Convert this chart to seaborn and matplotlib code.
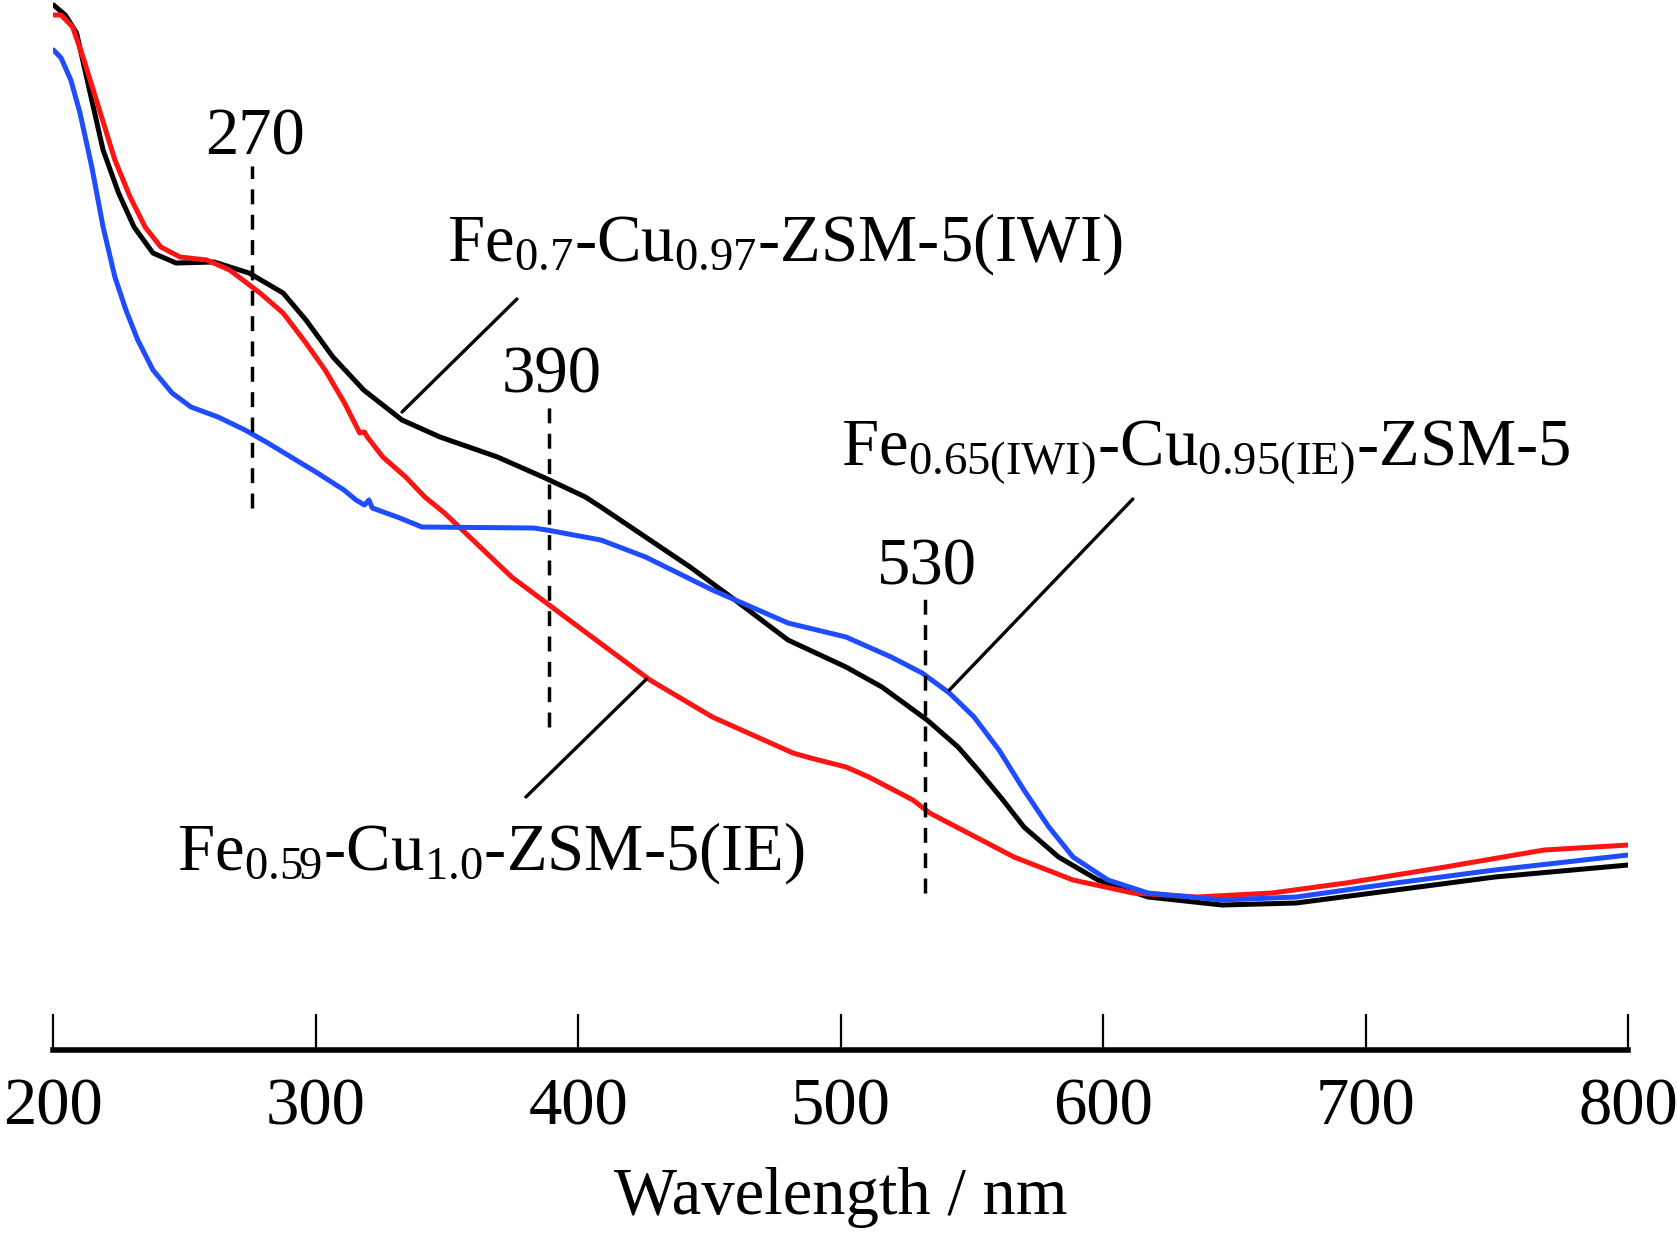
import numpy as np
import pandas as pd
import matplotlib
matplotlib.use("Agg")
import matplotlib.pyplot as plt
import seaborn as sns

# UV-vis spectra (absorbance in arbitrary units)
wl_iwi = [200, 204.5, 208.8, 213.1, 218.9, 224.8, 230.7, 237.9, 246.7, 261.2, 274.5, 287.5, 296.2,
          306.5, 318.2, 332.8, 347.3, 369.2, 386.5, 402.7, 408.6, 425.6, 442.6, 459.7, 479.9,
          502.0, 515.7, 532.9, 544.7, 553.0, 561.8, 569.8, 583.0, 598.0, 617.1, 645.3, 673.5, 711.4,
          749.2, 800]
abs_iwi = [10.45, 10.35, 10.17, 9.67, 9.00, 8.57, 8.23, 7.97, 7.87, 7.88, 7.77, 7.57, 7.30,
           6.93, 6.60, 6.30, 6.13, 5.93, 5.73, 5.53, 5.43, 5.13, 4.83, 4.50, 4.10,
           3.83, 3.63, 3.30, 3.03, 2.78, 2.50, 2.23, 1.93, 1.70, 1.53, 1.45, 1.47, 1.60,
           1.73, 1.85]

wl_ie = [200, 202.9, 207.3, 211.6, 217.5, 223.4, 229.2, 234.9, 240.9, 248.2, 258.4, 267.1,
         278.7, 287.5, 296.2, 303.5, 310.9, 316.7, 318.5, 319.6, 325.5, 334.2, 341.5, 349.0,
         374.6, 389.9, 405.2, 427.3, 451.1, 481.8, 488.5, 502.0, 510.7, 527.5, 533.9, 566.0,
         588.5, 611.4, 635.7, 664.2, 692.5, 730.3, 768.0, 800]
abs_ie = [10.35, 10.35, 10.23, 9.90, 9.40, 8.90, 8.53, 8.23, 8.03, 7.93, 7.90, 7.80,
          7.57, 7.37, 7.07, 6.80, 6.47, 6.17, 6.18, 6.13, 5.93, 5.73, 5.53, 5.37,
          4.73, 4.43, 4.13, 3.70, 3.33, 2.97, 2.92, 2.83, 2.73, 2.50, 2.37, 1.93,
          1.70, 1.57, 1.53, 1.57, 1.67, 1.83, 2.00, 2.05]

wl_mix = [200, 202.9, 206.6, 210.1, 214.6, 218.9, 223.4, 227.6, 232.1, 237.9, 245.2, 252.4,
          262.7, 273.0, 281.7, 290.5, 300.6, 310.7, 315.3, 318.5, 320.2, 321.5, 332.0, 340.4,
          383.1, 388.0, 408.6, 425.6, 451.1, 479.9, 502.0, 519.2, 531.0, 541.4, 550.8, 560.3,
          569.8, 579.3, 588.5, 601.8, 617.1, 645.3, 673.5, 711.4, 749.2, 800]
abs_mix = [10.00, 9.92, 9.70, 9.37, 8.83, 8.23, 7.73, 7.40, 7.10, 6.80, 6.57, 6.43,
           6.33, 6.20, 6.07, 5.93, 5.77, 5.60, 5.50, 5.45, 5.50, 5.42, 5.32, 5.23,
           5.22, 5.20, 5.10, 4.93, 4.60, 4.27, 4.13, 3.93, 3.77, 3.57, 3.33, 3.00,
           2.60, 2.23, 1.93, 1.70, 1.57, 1.50, 1.53, 1.67, 1.80, 1.95]

series = ["IWI", "IE", "MIX"]
colors = {"IWI": "black", "IE": "#ff1414", "MIX": "#1f4cff"}

# peak markers
peak_pos = [275.8, 388.7, 532.0]
peak_text = ["270", "390", "530"]
peak_ymin = [5.42, 3.23, 1.57]
peak_ymax = [8.84, 6.46, 4.54]

# sample labels with leader lines
labels = [r"Fe$_{\mathrm{0.7}}$-Cu$_{\mathrm{0.97}}$-ZSM-5(IWI)",
          r"Fe$_{\mathrm{0.65(IWI)}}$-Cu$_{\mathrm{0.95(IE)}}$-ZSM-5",
          r"Fe$_{\mathrm{0.59}}$-Cu$_{\mathrm{1.0}}$-ZSM-5(IE)"]
label_xy = [(350.0, 8.06), (500.0, 5.98), (247.0, 1.97)]
leader_start = [(332.8, 6.38), (541.4, 3.60), (426.0, 3.71)]
leader_end = [(376.6, 7.51), (611.3, 5.51), (380.0, 2.53)]

df = pd.concat([
    pd.DataFrame({"wl": wl_iwi, "abs": abs_iwi, "sample": "IWI"}),
    pd.DataFrame({"wl": wl_ie, "abs": abs_ie, "sample": "IE"}),
    pd.DataFrame({"wl": wl_mix, "abs": abs_mix, "sample": "MIX"}),
])

sns.set_style("white")
plt.rcParams["font.family"] = ["Liberation Serif", "DejaVu Serif"]
plt.rcParams["mathtext.fontset"] = "custom"
plt.rcParams["mathtext.rm"] = "Liberation Serif"
plt.rcParams["mathtext.it"] = "Liberation Serif:italic"
plt.rcParams["mathtext.bf"] = "Liberation Serif:bold"
plt.rcParams["text.color"] = "black"
plt.rcParams["axes.labelcolor"] = "black"

fig = plt.figure(figsize=(16.77, 12.33), dpi=100)
ax = fig.add_axes([0.0319, 0.1484, 0.9389, 0.8516])

sns.lineplot(data=df, x="wl", y="abs", hue="sample", hue_order=series,
             palette=colors, estimator=None, sort=False, linewidth=3.6,
             legend=False, ax=ax)

fs = 48
for x, t, y0, y1 in zip(peak_pos, peak_text, peak_ymin, peak_ymax):
    ax.plot([x, x], [y0, y1], color="black", linestyle=(0, (4.3, 3)), linewidth=2.5)
    ax.text(x + 1, y1 - 0.02, t, ha="center", va="bottom", fontsize=fs)

for t, (tx, ty), (x0, y0), (x1, y1) in zip(labels, label_xy, leader_start, leader_end):
    ax.plot([x0, x1], [y0, y1], color="black", linewidth=2.4)
    ax.text(tx, ty, t, ha="left", va="center", fontsize=fs)

ax.set_xlim(200, 800)
ax.set_ylim(0, 10.5)
ax.set_xticks([200, 300, 400, 500, 600, 700, 800])
ax.set_yticks([])
for side in ["left", "right", "top"]:
    ax.spines[side].set_visible(False)
ax.spines["bottom"].set_linewidth(4)
ax.spines["bottom"].set_color("black")
ax.tick_params(axis="x", direction="in", length=26, width=1.6, pad=20,
               labelsize=fs, bottom=True, colors="black")
ax.set_xlabel("Wavelength / nm", fontsize=fs, labelpad=20)
ax.set_ylabel("")

fig.savefig("out.png", dpi=100)
